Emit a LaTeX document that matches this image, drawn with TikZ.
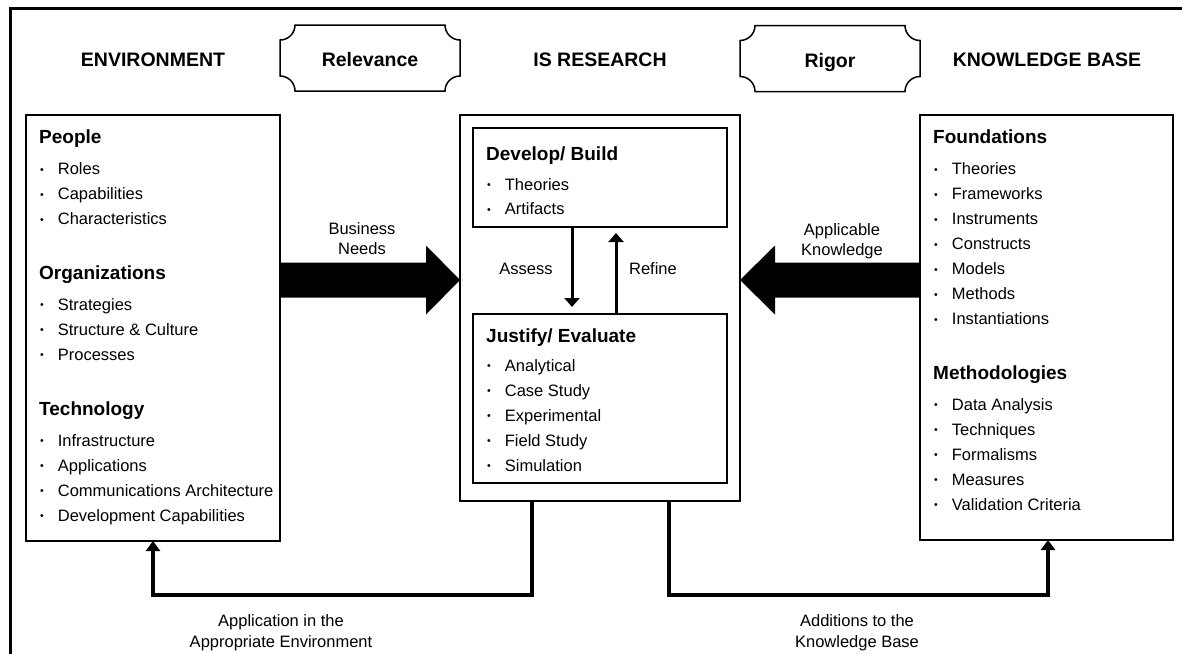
\documentclass[tikz,border=0pt]{standalone}
\usepackage{fontspec}
\setmainfont{Liberation Sans}
\usetikzlibrary{arrows.meta,calc}

% small list bullet followed by the indent of the item text
\newcommand\bul{\makebox[17.7pt][l]{\raisebox{1.2pt}{\fontsize{10.5}{10.5}\selectfont\textbullet}}}

% plaque outline (concave rounded corners) around a named node
\newcommand\plaque[1]{%
  \draw[plq] ([xshift=15pt]#1.north west) -- ([xshift=-15pt]#1.north east)
    arc[start angle=180, end angle=90, radius=15]
    -- ([yshift=15pt]#1.south east)
    arc[start angle=270, end angle=180, radius=15]
    -- ([xshift=15pt]#1.south west)
    arc[start angle=0, end angle=-90, radius=15]
    -- ([yshift=-15pt]#1.north west)
    arc[start angle=90, end angle=0, radius=15]
    -- cycle;}

\begin{document}
\begin{tikzpicture}[x=1pt,y=-1pt,
  frame/.style={line width=3pt},
  box/.style={draw, line width=1.7pt, inner sep=0pt, outer sep=0pt, anchor=north west},
  plq/.style={line width=1.5pt},
  titletxt/.style={font=\fontsize{19.5}{23}\selectfont\bfseries, anchor=base, inner sep=0pt},
  plaquenode/.style={font=\fontsize{19.5}{23}\selectfont\bfseries, inner sep=0pt, outer sep=0pt,
    minimum width=180pt, minimum height=66pt, text height=17.4pt, text depth=0pt},
  headtxt/.style={font=\fontsize{19}{23}\selectfont\bfseries, anchor=base west, inner sep=0pt},
  itemtxt/.style={font=\fontsize{16.5}{20}\selectfont, anchor=base west, inner sep=0pt},
  lbltxt/.style={font=\fontsize{16.5}{20}\selectfont, anchor=base, inner sep=0pt},
  bigarrow/.style={fill=black},
  stepflow/.style={line width=3pt, -{Triangle[length=9pt,width=15pt]}},
  backflow/.style={line width=4pt, -{Triangle[length=10pt,width=14pt]}},
]
\useasboundingbox (0,0) rectangle (1182,653);
\clip (0,0) rectangle (1182,653);

% outer frame
\draw[frame] (10,700) -- (10,8) -- (1230,8);

% column titles
\node[titletxt] (envtitle) at (153,66.7) {ENVIRONMENT};
\node[titletxt] (isrtitle) at (600,66.7) {IS RESEARCH};
\node[titletxt] (kbtitle) at (1047,66.7) {KNOWLEDGE BASE};

% relevance / rigor plaques
\node[plaquenode] (rel) at (370,58) {Relevance};
\node[plaquenode] (rig) at (830,58.5) {Rigor};
\plaque{rel}
\plaque{rig}

% boxes
\node[box, minimum width=254pt, minimum height=426pt] (env) at (26,115) {};
\node[box, minimum width=280pt, minimum height=386pt] (isr) at (460,115) {};
\node[box, minimum width=254pt, minimum height=99pt] (dev) at (473,128) {};
\node[box, minimum width=254pt, minimum height=169pt] (jus) at (473,314) {};
\node[box, minimum width=253pt, minimum height=425pt] (kb) at (920,115) {};

% environment contents
\node[headtxt] (hpeople) at (39,143.3) {People};
\foreach \t [count=\i] in {Roles,Capabilities,Characteristics}
  \node[itemtxt] (ipeople\i) at (40,{174.3+25*(\i-1)}) {\bul\t};
\node[headtxt] (horg) at (39,279) {Organizations};
\foreach \t [count=\i] in {Strategies,Structure \& Culture,Processes}
  \node[itemtxt] (iorg\i) at (40,{310+25*(\i-1)}) {\bul\t};
\node[headtxt] (htech) at (39,415) {Technology};
\foreach \t [count=\i] in {Infrastructure,Applications,Communications Architecture,Development Capabilities}
  \node[itemtxt] (itech\i) at (40,{446+25*(\i-1)}) {\bul\t};

% research contents
\node[headtxt] (hdev) at (486,160) {Develop/ Build};
\foreach \t [count=\i] in {Theories,Artifacts}
  \node[itemtxt] (idev\i) at (487,{190+24.5*(\i-1)}) {\bul\t};
\node[headtxt] (hjus) at (486,342) {Justify/ Evaluate};
\foreach \t [count=\i] in {Analytical,Case Study,Experimental,Field Study,Simulation}
  \node[itemtxt] (ijus\i) at (487,{371+25*(\i-1)}) {\bul\t};

% knowledge base contents
\node[headtxt] (hfound) at (933,143.3) {Foundations};
\foreach \t [count=\i] in {Theories,Frameworks,Instruments,Constructs,Models,Methods,Instantiations}
  \node[itemtxt] (ifound\i) at (934,{174.3+25*(\i-1)}) {\bul\t};
\node[headtxt] (hmeth) at (933,379) {Methodologies};
\foreach \t [count=\i] in {Data Analysis,Techniques,Formalisms,Measures,Validation Criteria}
  \node[itemtxt] (imeth\i) at (934,{410+25*(\i-1)}) {\bul\t};

% block arrows
\fill[bigarrow] (env.east |- 0,262.5) -- (426,262.5) -- (426,245.5) -- (isr.west |- 0,280)
  -- (426,314.5) -- (426,297.5) -- (env.east |- 0,297.5) -- cycle;
\fill[bigarrow] (kb.west |- 0,262.5) -- (775,262.5) -- (775,245.5) -- (isr.east |- 0,280)
  -- (775,314.5) -- (775,297.5) -- (kb.west |- 0,297.5) -- cycle;
\node[lbltxt] (bn1) at (362,234) {Business};
\node[lbltxt] (bn2) at (362,254) {Needs};
\node[lbltxt] (ak1) at (842,235) {Applicable};
\node[lbltxt] (ak2) at (842,255) {Knowledge};

% assess / refine loop
\draw[stepflow, shorten >=7pt] (dev.south -| 572,0) -- (jus.north -| 572,0);
\draw[stepflow, shorten >=6pt] (jus.north -| 616,0) -- (dev.south -| 616,0);
\node[lbltxt] (assess) at (526,274) {Assess};
\node[lbltxt] (refine) at (653,274) {Refine};

% feedback to environment and knowledge base
\draw[backflow] (isr.south -| 532,0) -- (532,595) -| (env.south -| 153,0);
\draw[backflow] (isr.south -| 669,0) -- (669,595) -| (kb.south -| 1048,0);
\node[lbltxt] (ap1) at (281,626) {Application in the};
\node[lbltxt] (ap2) at (281,647) {Appropriate Environment};
\node[lbltxt] (ad1) at (857,626) {Additions to the};
\node[lbltxt] (ad2) at (857,647) {Knowledge Base};
\end{tikzpicture}
\end{document}
